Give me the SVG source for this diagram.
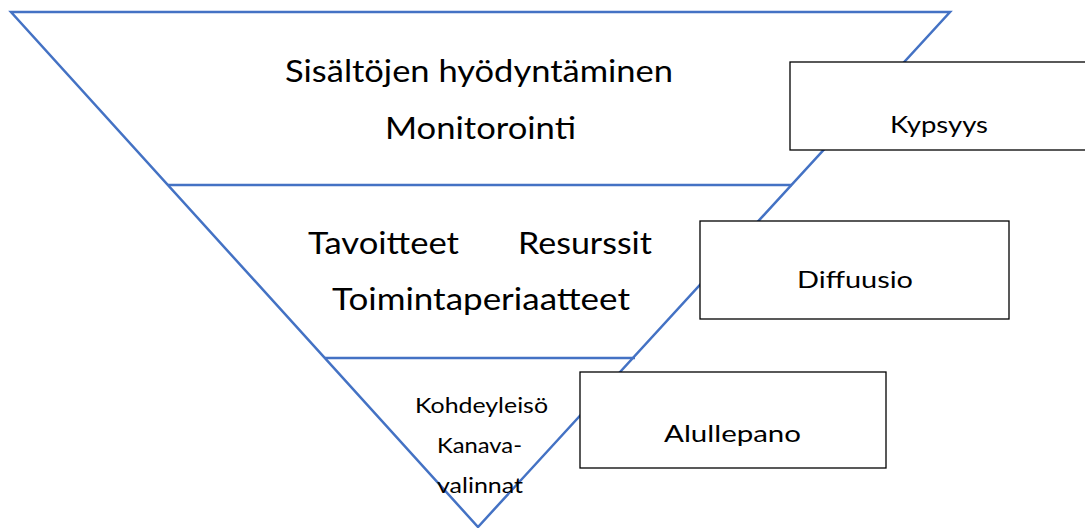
<svg xmlns="http://www.w3.org/2000/svg" width="1085" height="528" viewBox="0 0 1085 528">
<style>
.tri{fill:none;stroke:#4472C4;stroke-width:2.5}
.box{fill:#fff;stroke:#000;stroke-width:1.3}
text{font-family:Lato,"Liberation Sans",sans-serif;fill:#000}
.big{font-size:30px}
.mid{font-size:24px}
.sm{font-size:21px}
</style>
<rect width="1085" height="528" fill="#fff"/>
<g id="connectors">
<polygon class="tri" points="11,12 950,12 478,527"/>
<line class="tri" x1="168" y1="185" x2="792" y2="185"/>
<line class="tri" x1="325" y1="358" x2="635" y2="358"/>
</g>
<g id="top-level">
<text class="big" x="285" y="82" textLength="388" lengthAdjust="spacingAndGlyphs">Sisältöjen hyödyntäminen</text>
<text class="big" x="385" y="139" textLength="191" lengthAdjust="spacingAndGlyphs">Monitorointi</text>
</g>
<g id="mid-level">
<text class="big" x="308" y="254" textLength="151" lengthAdjust="spacingAndGlyphs">Tavoitteet</text>
<text class="big" x="518" y="254" textLength="134" lengthAdjust="spacingAndGlyphs">Resurssit</text>
<text class="big" x="332" y="310" textLength="298" lengthAdjust="spacingAndGlyphs">Toimintaperiaatteet</text>
</g>
<g id="bottom-level">
<text class="sm" x="415" y="413" textLength="133" lengthAdjust="spacingAndGlyphs">Kohdeyleisö</text>
<text class="sm" x="437" y="453" textLength="85" lengthAdjust="spacingAndGlyphs">Kanava-</text>
<text class="sm" x="437" y="493" textLength="86" lengthAdjust="spacingAndGlyphs">valinnat</text>
</g>
<g id="kypsyys">
<rect class="box" x="790" y="62" width="300" height="88"/>
<text class="mid" x="890" y="133" textLength="98" lengthAdjust="spacingAndGlyphs">Kypsyys</text>
</g>
<g id="diffuusio">
<rect class="box" x="700" y="221" width="309" height="98"/>
<text class="mid" x="797" y="288" textLength="116" lengthAdjust="spacingAndGlyphs">Diffuusio</text>
</g>
<g id="alullepano">
<rect class="box" x="580" y="372" width="306" height="96"/>
<text class="mid" x="664" y="442" textLength="137" lengthAdjust="spacingAndGlyphs">Alullepano</text>
</g>
</svg>
